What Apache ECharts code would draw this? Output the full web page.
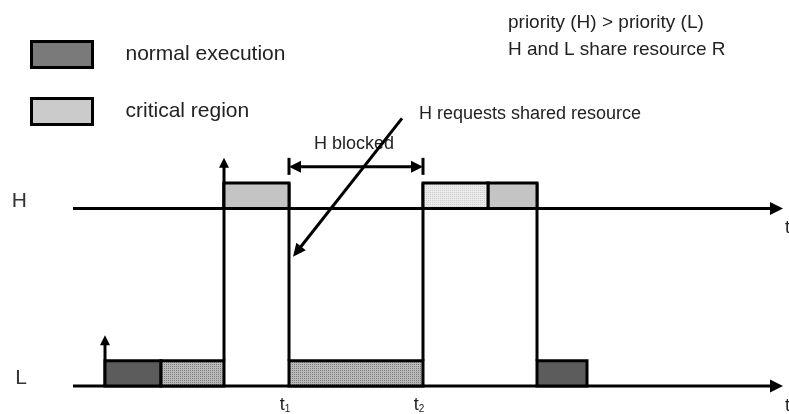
<!DOCTYPE html>
<html><head><meta charset="utf-8">
<script src="https://cdn.jsdelivr.net/npm/echarts@6/dist/echarts.min.js"></script>
<style>html,body{margin:0;padding:0;background:#fff}#c{width:789px;height:414px}</style>
</head><body><div id="c"></div>
<script>
// ---- data (time units on a hidden value axis; lanes on a hidden value axis) ----
const lanes = ['L', 'H'];
const laneBase = [0, 7];
const hExec = [[15.1, 21.6], [41.5, 46.4]];
const hCrit = [[35.0, 41.5]];
const lExec = [[3.2, 8.8], [46.4, 51.4]];
const lCrit = [[8.8, 15.1], [21.6, 35.0]];
const switches = [15.1, 21.6, 35.0, 46.4];
const releases = [[3.2, 'L'], [15.1, 'H']];
const timeMarks = [21.6, 35.0];
const timeMarkSubs = ['1', '2'];
const blockedSpan = [21.6, 35.0];
const blockedLevel = 8.64;
const requestArrow = [[32.9, 10.55], [22.0, 5.1]];
const legendNames = ['normal execution', 'critical region'];
const notes = ['priority (H) > priority (L)', 'H and L share resource R'];
const requestText = 'H requests shared resource';
const blockedText = 'H blocked';
const timeMax = 71;

const FONT = '"Liberation Sans", Arial, Helvetica, sans-serif';

function makePattern(bg, dot) {
  const cv = document.createElement('canvas');
  cv.width = 4; cv.height = 4;
  const g = cv.getContext('2d');
  g.fillStyle = bg; g.fillRect(0, 0, 4, 4);
  g.fillStyle = dot;
  g.fillRect(0, 0, 1, 1); g.fillRect(2, 2, 1, 1);
  g.fillRect(2, 0, 1, 1); g.fillRect(0, 2, 1, 1);
  return { image: cv, repeat: 'repeat' };
}
const patLCrit = makePattern('#bababa', '#7c7c7c');
const patHCrit = makePattern('#ebebeb', '#cccccc');
const patLegCrit = makePattern('#d8d8d8', '#a4a4a4');

const fills = {
  exec: { L: '#5c5c5c', H: '#c4c4c4' },
  crit: { L: patLCrit, H: patHCrit }
};

function blockData(list, lane) {
  return list.map(d => [d[0], d[1], laneBase[lanes.indexOf(lane)], lane]);
}

function renderBlock(kind) {
  return function (params, api) {
    const s = api.value(0), e = api.value(1), base = api.value(2);
    const lane = lanes[laneBase.indexOf(base)];
    const p0 = api.coord([s, base + 1]);
    const p1 = api.coord([e, base]);
    return {
      type: 'rect',
      shape: { x: p0[0], y: p0[1], width: p1[0] - p0[0], height: p1[1] - p0[1] },
      style: { fill: fills[kind][lane], stroke: '#000', lineWidth: 3 },
      z2: 5
    };
  };
}

function arrow(ch, p, q, len, half, w) {
  const dx = q[0] - p[0], dy = q[1] - p[1], L = Math.hypot(dx, dy);
  const ux = dx / L, uy = dy / L;
  const bx = q[0] - ux * len, by = q[1] - uy * len;
  ch.push({ type: 'line', shape: { x1: p[0], y1: p[1], x2: bx + ux * 2, y2: by + uy * 2 },
    style: { stroke: '#000', lineWidth: w } });
  ch.push({ type: 'polygon', shape: { points: [[q[0], q[1]], [bx - uy * half, by + ux * half], [bx + uy * half, by - ux * half]] },
    style: { fill: '#000' } });
}

function renderAnno(params, api) {
  const c = (x, y) => api.coord([x, y]);
  const ch = [];
  // timelines
  laneBase.forEach(b => {
    arrow(ch, c(0, b), c(timeMax, b), 13, 6.5, 3);
    const e = c(timeMax, b);
    ch.push({ type: 'text', style: { text: 't', x: e[0] + 2, y: e[1] + 20, fontSize: 18, fontFamily: FONT, fill: '#222', align: 'left', verticalAlign: 'middle' } });
  });
  // context switch verticals
  switches.forEach(t => {
    const a = c(t, 1), b = c(t, 8);
    ch.push({ type: 'line', shape: { x1: a[0], y1: a[1], x2: b[0], y2: b[1] }, style: { stroke: '#000', lineWidth: 3 } });
  });
  // releases
  releases.forEach(r => {
    const base = laneBase[lanes.indexOf(r[1])];
    arrow(ch, c(r[0], base), c(r[0], base + 2), 10, 5, 3);
  });
  // blocked span
  const a = c(blockedSpan[0], blockedLevel), b = c(blockedSpan[1], blockedLevel);
  const mid = [(a[0] + b[0]) / 2, a[1]];
  arrow(ch, mid, a, 12, 6, 3);
  arrow(ch, mid, b, 12, 6, 3);
  [a, b].forEach(p => ch.push({ type: 'line', shape: { x1: p[0], y1: p[1] - 9, x2: p[0], y2: p[1] + 8 }, style: { stroke: '#000', lineWidth: 3 } }));
  ch.push({ type: 'text', style: { text: blockedText, x: mid[0] - 2, y: mid[1] - 23, fontSize: 18, fontFamily: FONT, fill: '#222', align: 'center', verticalAlign: 'middle' } });
  // request arrow
  const rs = c(requestArrow[0][0], requestArrow[0][1]);
  const re = c(requestArrow[1][0], requestArrow[1][1]);
  arrow(ch, rs, re, 13, 6, 3);
  ch.push({ type: 'text', style: { text: requestText, x: rs[0] + 17, y: rs[1] - 4, fontSize: 18, fontFamily: FONT, fill: '#222', align: 'left', verticalAlign: 'middle' } });
  // time marks
  timeMarks.forEach((t, i) => {
    const p = c(t, 0);
    ch.push({ type: 'text', style: {
      text: '{t|t}{s|' + timeMarkSubs[i] + '}', x: p[0] - 4, y: p[1] + 19, align: 'center', verticalAlign: 'middle',
      rich: { t: { fontSize: 18, fontFamily: FONT, fill: '#222', verticalAlign: 'bottom' },
              s: { fontSize: 10, fontFamily: FONT, fill: '#222', verticalAlign: 'bottom' } }
    } });
  });
  return { type: 'group', children: ch };
}

const chart = echarts.init(document.getElementById('c'), null, { renderer: 'canvas' });
chart.setOption({
  animation: false,
  backgroundColor: '#fff',
  title: {
    text: notes.join('\n'), left: 503, top: 4,
    textStyle: { fontSize: 19, fontWeight: 'normal', color: '#222', lineHeight: 27, fontFamily: FONT }
  },
  legend: {
    orient: 'vertical', left: 30, top: 40, padding: 0, itemGap: 28,
    itemWidth: 61, itemHeight: 26, selectedMode: false,
    textStyle: { fontSize: 21, color: '#222', fontFamily: FONT, padding: [3, 0, 0, 28] },
    data: [
      { name: legendNames[0], icon: 'rect', itemStyle: { color: '#7a7a7a', borderColor: '#000', borderWidth: 3 } },
      { name: legendNames[1], icon: 'rect', itemStyle: { color: patLegCrit, borderColor: '#000', borderWidth: 3 } }
    ]
  },
  grid: { left: 73, right: 6, top: 107, bottom: 28 },
  xAxis: { type: 'value', min: 0, max: timeMax, show: false },
  yAxis: {
    type: 'value', min: 0, max: 11, interval: 7,
    axisLine: { show: false }, axisTick: { show: false }, splitLine: { show: false },
    axisLabel: {
      margin: 46, fontSize: 21, color: '#333', fontFamily: FONT, verticalAlign: 'bottom', lineHeight: 15,
      formatter: v => { const i = laneBase.indexOf(v); return i >= 0 ? lanes[i] : ''; }
    }
  },
  series: [
    { name: 'anno', type: 'custom', renderItem: renderAnno, data: [[0, 0]], silent: true, z: 1 },
    { name: legendNames[0], type: 'custom', renderItem: renderBlock('exec'),
      itemStyle: { color: '#7a7a7a' },
      encode: { x: [0, 1], y: 2 },
      data: blockData(lExec, 'L').concat(blockData(hExec, 'H')), z: 3 },
    { name: legendNames[1], type: 'custom', renderItem: renderBlock('crit'),
      itemStyle: { color: patLegCrit },
      encode: { x: [0, 1], y: 2 },
      data: blockData(lCrit, 'L').concat(blockData(hCrit, 'H')), z: 3 }
  ]
});
</script></body></html>
